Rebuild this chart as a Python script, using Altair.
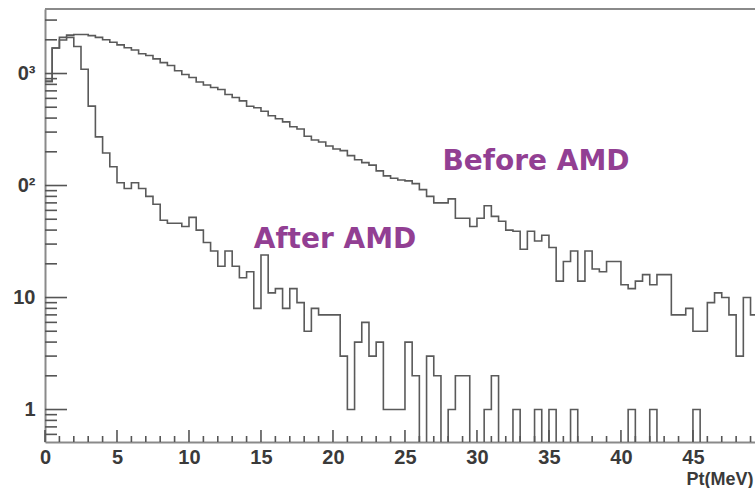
import altair as alt
import pandas as pd

# ---- data (counts per 0.5 MeV bin) ----
bin_width = 0.5
before_amd = [
    850, 1690, 2100, 2200, 2230, 2230, 2180, 2100, 2000, 1900,
    1800, 1700, 1620, 1500, 1450, 1350, 1250, 1180, 1060, 980,
    920, 840, 790, 750, 720, 650, 610, 570, 510, 495,
    460, 420, 395, 370, 335, 320, 275, 255, 245, 225,
    212, 205, 185, 170, 160, 152, 135, 122, 116, 112,
    110, 104, 92, 80, 70, 70, 76, 51, 51, 43,
    51, 66, 53, 48, 40, 39, 27, 39, 32, 36,
    28, 14, 21, 26, 14, 26, 18, 17, 21, 21,
    13, 12, 14, 16, 13, 16, 16, 7, 7, 8,
    5, 5, 9, 11, 10, 7, 3, 10, 7, 8,
]
after_amd = [
    850, 1690, 1990, 2100, 1740, 1090, 512, 272, 195, 147,
    106, 94, 106, 94, 80, 68, 49, 46, 46, 43,
    52, 40, 31, 26, 19, 26, 19, 15, 17, 8,
    24, 11, 12, 8, 12, 9, 5, 8, 7, 7,
    7, 3, 1, 4, 6, 3, 4, 1, 1, 1,
    4, 2, 0, 3, 2, 0, 1, 2, 2, 0,
    0, 1, 2, 0, 0, 1, 0, 0, 1, 0,
    1, 0, 0, 1, 0, 0, 0, 0, 0, 0,
    0, 1, 0, 0, 1, 0, 0, 0, 0, 0,
    1, 0, 0, 0, 0, 0, 0, 0, 0, 0,
]
series_labels = ["Before AMD", "After AMD"]
x_tick_values = [0, 5, 10, 15, 20, 25, 30, 35, 40, 45]
x_minor_values = [v for v in range(1, 50) if v % 5 != 0]
y_tick_values = [1, 10, 100, 1000]
y_tick_labels = ["1", "10", "0²", "0³"]
y_minor_values = [0.6, 0.7, 0.8, 0.9] + [m * d for d in (1, 10, 100) for m in range(2, 10)] + [2000, 3000]
x_title = "Pt(MeV)"

# ---- layout ----
W, H = 710, 433
X_DOMAIN = [0, 49.31]
Y_DOMAIN = [0.513, 3767]
LINE = "#5a5a5a"
FRAME = "#8a8a8a"
TICK = "#555555"
TXT = "#3a3a3a"
PURPLE = "#923f93"


def steps(counts, name):
    rows = [{"pt": i * bin_width, "count": c, "series": name} for i, c in enumerate(counts)]
    rows.append({"pt": len(counts) * bin_width, "count": counts[-1], "series": name})
    return rows


hist = pd.DataFrame(steps(before_amd, series_labels[0]) + steps(after_amd, series_labels[1]))

xs = alt.Scale(domain=X_DOMAIN, nice=False, zero=False)
ys = alt.Scale(type="log", domain=Y_DOMAIN, nice=False)

label_expr = "".join(
    f"datum.value == {v} ? '{t}' : " for v, t in zip(y_tick_values, y_tick_labels)
) + "''"

x_axis = alt.Axis(
    values=x_tick_values, title=x_title, grid=False, ticks=False,
    domainColor=FRAME, domainWidth=2,
    labelFont="Liberation Sans", labelFontSize=20, labelFontWeight="bold",
    labelColor=TXT, labelPadding=5, labelOverlap=False, labelFlush=False,
    titleFont="Liberation Sans", titleFontSize=18, titleFontWeight="bold",
    titleColor=TXT, titleX=641, titleY=42, titleAlign="left",
    titleBaseline="alphabetic")
y_axis = alt.Axis(
    values=y_tick_values, labelExpr=label_expr, title=None, grid=False,
    ticks=False, domainColor=FRAME, domainWidth=2,
    labelFont="Liberation Sans", labelFontSize=20, labelFontWeight="bold",
    labelColor=TXT, labelPadding=10, labelOverlap=False, labelFlush=False)

lines = alt.Chart(hist).transform_calculate(
    plotted="max(datum.count, 0.05)"
).mark_line(interpolate="step-after", clip=True, color=LINE, strokeWidth=1.6).encode(
    x=alt.X("pt:Q", scale=xs, axis=x_axis),
    y=alt.Y("plotted:Q", scale=ys, axis=y_axis),
    detail="series:N",
)

x_major = alt.Chart(pd.DataFrame({"xv": x_tick_values})).mark_rule(
    color=TICK, strokeWidth=1.6).encode(
    x=alt.X("xv:Q", scale=xs), y=alt.value(H), y2=alt.value(H - 12))
x_minor = alt.Chart(pd.DataFrame({"xv": x_minor_values})).mark_rule(
    color=TICK, strokeWidth=1.6).encode(
    x=alt.X("xv:Q", scale=xs), y=alt.value(H), y2=alt.value(H - 6))
y_major = alt.Chart(pd.DataFrame({"yv": y_tick_values})).mark_rule(
    color=TICK, strokeWidth=1.6).encode(
    y=alt.Y("yv:Q", scale=ys), x=alt.value(0), x2=alt.value(22))
y_minor = alt.Chart(pd.DataFrame({"yv": y_minor_values})).mark_rule(
    color=TICK, strokeWidth=1.6).encode(
    y=alt.Y("yv:Q", scale=ys), x=alt.value(0), x2=alt.value(12))

top_frame = alt.Chart(pd.DataFrame({"a": [0]})).mark_rule(
    color=FRAME, strokeWidth=2).encode(
    x=alt.value(0), x2=alt.value(W), y=alt.value(0))

before_text = alt.Chart(pd.DataFrame({"a": [0]})).mark_text(
    text=series_labels[0], font="DejaVu Sans", fontSize=28, fontWeight="bold",
    color=PURPLE, align="center", baseline="alphabetic").encode(
    x=alt.value(491), y=alt.value(161))
after_text = alt.Chart(pd.DataFrame({"a": [0]})).mark_text(
    text=series_labels[1], font="DejaVu Sans", fontSize=28, fontWeight="bold",
    color=PURPLE, align="center", baseline="alphabetic").encode(
    x=alt.value(290), y=alt.value(239))

chart = alt.layer(
    lines, x_major, x_minor, y_major, y_minor, top_frame, before_text, after_text
).properties(
    width=W, height=H,
    padding={"left": 45, "top": 9, "right": 0, "bottom": 46},
    autosize=alt.AutoSizeParams(type="none"),
    background="white",
).configure_view(stroke=None)

chart.save("out.html", embed_options={"renderer": "svg", "actions": False})
